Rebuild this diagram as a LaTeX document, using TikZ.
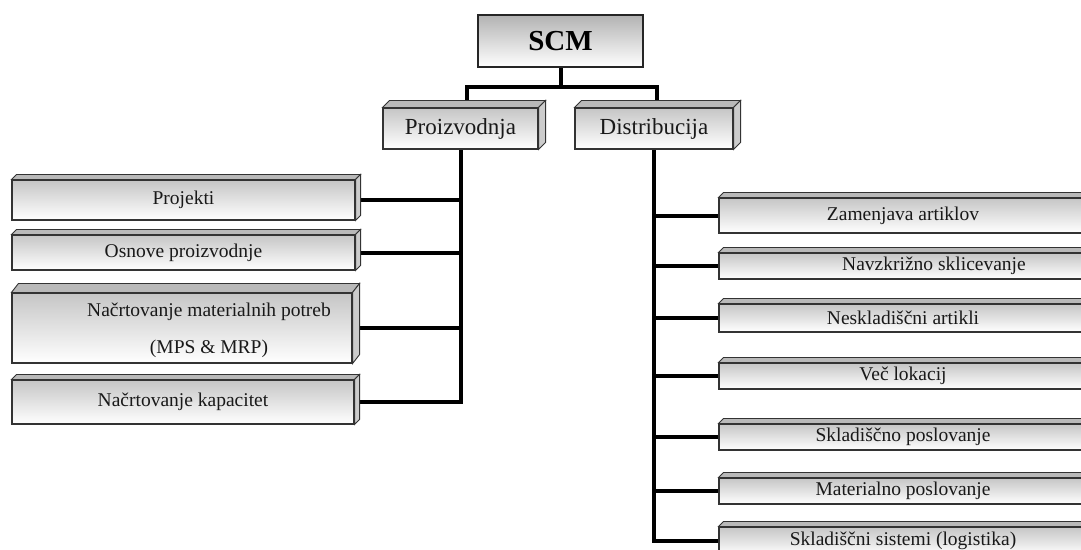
\documentclass[tikz,border=0pt]{standalone}
\usepackage{fontspec}
\setmainfont{Liberation Serif}
\pgfdeclarelayer{background}
\pgfsetlayers{background,main}
\begin{document}
\begin{tikzpicture}[x=1pt,y=-1pt,
  box/.style={draw=black!80,line width=1.1pt,rectangle,inner sep=0pt,
    top color=gray!45,bottom color=white,
    font=\fontsize{19.5}{23}\selectfont,text=black!90},
  headbox/.style={box,font=\fontsize{23}{27}\selectfont},
  rootbox/.style={draw=black!85,line width=2pt,rectangle,inner sep=0pt,
    top color=gray!60,bottom color=white,
    font=\fontsize{29}{33}\selectfont\bfseries},
  topface/.style={draw=black!80,line width=0.9pt,fill=gray!55},
  sideface/.style={draw=black!80,line width=0.9pt,fill=gray!40},
  txt/.style={inner sep=0pt,font=\fontsize{19.5}{23}\selectfont,text=black!90},
  link/.style={line width=4pt,black}]
\useasboundingbox (0,0) rectangle (1081,549);
\clip (0,0) rectangle (1081,549);

% root
\node[rootbox,minimum width=165,minimum height=52] (scm) at (560.5,41) {SCM};

% branch heads
\node[headbox,minimum width=155,minimum height=41] (prz) at (460.5,128.5) {Proizvodnja};
\node[headbox,minimum width=158,minimum height=41] (dis) at (654,128.5) {Distribucija};

% production items
\node[box,minimum width=343,minimum height=40] (p1) at (183.5,200) {Projekti};
\node[box,minimum width=343,minimum height=35] (p2) at (183.5,252.5) {Osnove proizvodnje};
\node[box,minimum width=340,minimum height=70] (p3) at (182,328) {};
\node[txt] (p3a) at (209,312) {Načrtovanje materialnih potreb};
\node[txt] (p3b) at (209,349) {(MPS \& MRP)};
\node[box,minimum width=342,minimum height=44] (p4) at (183,402) {Načrtovanje kapacitet};

% distribution items
\node[box,minimum width=368,minimum height=35] (d1) at (903,215.5) {Zamenjava artiklov};
\node[box,minimum width=368,minimum height=26] (d2) at (903,266) {};
\node[txt] (d2a) at (934,266) {Navzkrižno sklicevanje};
\node[box,minimum width=368,minimum height=28] (d3) at (903,318) {Neskladiščni artikli};
\node[box,minimum width=368,minimum height=26] (d4) at (903,376) {Več lokacij};
\node[box,minimum width=368,minimum height=26] (d5) at (903,437) {Skladiščno poslovanje};
\node[box,minimum width=368,minimum height=26] (d6) at (903,491) {Materialno poslovanje};
\node[box,minimum width=368,minimum height=28] (d7) at (903,541) {Skladiščni sistemi (logistika)};

% bevelled top and right faces
\foreach \n/\d/\e in {prz/7/7,dis/7/7,p1/5/5,p2/5/5,p3/7/9,p4/5/5,
    d1/5/5,d2/5/5,d3/5/5,d4/5/5,d5/5/5,d6/5/5,d7/5/5}{
  \filldraw[topface] (\n.north west) -- ([shift={(\d pt,\e pt)}]\n.north west)
    -- ([shift={(\d pt,\e pt)}]\n.north east) -- (\n.north east) -- cycle;
  \filldraw[sideface] (\n.north east) -- ([shift={(\d pt,\e pt)}]\n.north east)
    -- ([shift={(\d pt,\e pt)}]\n.south east) -- (\n.south east) -- cycle;
}

% connectors
\begin{pgfonlayer}{background}
  \draw[link] (scm.south) -- ([yshift=-19pt]scm.south);
  \draw[link] ([xshift=6pt]prz.north) |- ([yshift=-19pt]scm.south)
    -| ([xshift=3pt]dis.north);
  \draw[link] (prz.south) |- (p4.east);
  \foreach \n in {p1,p2,p3}{\draw[link] (\n.east) -- (\n.east -| prz.south);}
  \draw[link] (dis.south) |- (d7.west);
  \foreach \n in {d1,d2,d3,d4,d5,d6}{\draw[link] (\n.west) -- (\n.west -| dis.south);}
\end{pgfonlayer}
\end{tikzpicture}
\end{document}
